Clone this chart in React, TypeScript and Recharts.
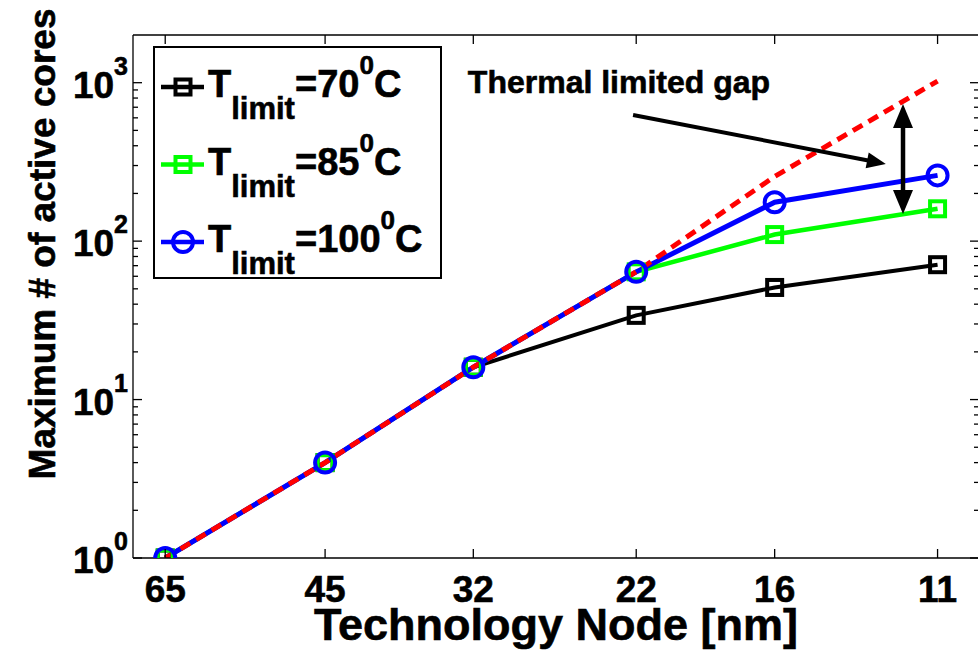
import {
  LineChart,
  Line,
  XAxis,
  YAxis,
  Legend,
  ReferenceLine,
  ReferenceDot,
} from "recharts";

// technology nodes [nm] and max # of active cores per thermal limit
const nodes = [65, 45, 32, 22, 16, 11];
const cores70 = [1, 4, 16, 34, 51, 71];
const cores85 = [1, 4, 16, 64, 110, 160];
const cores100 = [1, 4, 16, 64, 176, 260];
const coresIdeal = [1, 4, 16, 64, 256, 1024];

const xTicks = [65, 45, 32, 22, 16, 11];
const yMajor = [1, 10, 100, 1000];
const yTicks = [
  1, 2, 3, 4, 5, 6, 7, 8, 9,
  10, 20, 30, 40, 50, 60, 70, 80, 90,
  100, 200, 300, 400, 500, 600, 700, 800, 900,
  1000,
];

const legendItems = [
  { temp: "70", color: "#000000", marker: "square" },
  { temp: "85", color: "#00ff00", marker: "square" },
  { temp: "100", color: "#0000ff", marker: "circle" },
];

const data = nodes.map((n, i) => ({
  node: n,
  t70: cores70[i],
  t85: cores85[i],
  t100: cores100[i],
  ideal: coresIdeal[i],
}));

const FONT = "'Liberation Sans', Arial, Helvetica, sans-serif";
// slightly heavier than plain bold, like the original figure
const textStyle = {
  fontFamily: FONT,
  fontWeight: "bold" as const,
  fill: "#000",
  stroke: "#000",
  strokeWidth: 0.6,
};

const squareDot = (color: string) => (props: any) => {
  const { cx, cy, index } = props;
  if (cx == null || cy == null) return <g key={index} />;
  return (
    <rect
      key={index}
      x={cx - 7.5}
      y={cy - 7.5}
      width={15}
      height={15}
      fill="none"
      stroke={color}
      strokeWidth={4}
    />
  );
};

const LeftTick = (props: any) => {
  const { x, y, payload } = props;
  const v = payload.value;
  const major = yMajor.includes(v);
  return (
    <g>
      <line x1={x} x2={x + (major ? 9 : 5)} y1={y} y2={y} stroke="#000" strokeWidth={1.3} />
      {major && (
        <text x={x - 5} y={y + 15} textAnchor="end" fontSize={37} {...textStyle}>
          10
          <tspan fontSize={25} dy={-23}>
            {Math.round(Math.log10(v))}
          </tspan>
        </text>
      )}
    </g>
  );
};

const RightTick = (props: any) => {
  const { x, y, payload } = props;
  const major = yMajor.includes(payload.value);
  return <line x1={x} x2={x - (major ? 9 : 5)} y1={y} y2={y} stroke="#000" strokeWidth={1.3} />;
};

const BottomTick = (props: any) => {
  const { x, y, payload } = props;
  return (
    <g>
      <line x1={x} x2={x} y1={y} y2={y - 9} stroke="#000" strokeWidth={1.3} />
      <text x={x} y={y + 44} textAnchor="middle" fontSize={37} {...textStyle}>
        {payload.value}
      </text>
    </g>
  );
};

const TopTick = (props: any) => {
  const { x, y } = props;
  return <line x1={x} x2={x} y1={y} y2={y + 9} stroke="#000" strokeWidth={1.3} />;
};

const XTitle = (props: any) => {
  const vb = props.viewBox;
  return (
    <text
      x={vb.x + vb.width / 2}
      y={vb.y + 82}
      textAnchor="middle"
      fontSize={45}
      {...textStyle}
    >
      Technology Node [nm]
    </text>
  );
};

const YTitle = (props: any) => {
  const vb = props.viewBox;
  return (
    <text
      transform={`translate(${vb.x - 18},${vb.y + 209}) rotate(-90)`}
      textAnchor="middle"
      fontSize={37}
      {...textStyle}
    >
      Maximum # of active cores
    </text>
  );
};

function arrowHead(x1: number, y1: number, x2: number, y2: number, len: number, half: number) {
  // triangle pointing from (x1,y1) towards (x2,y2), tip at (x2,y2)
  const d = Math.hypot(x2 - x1, y2 - y1) || 1;
  const ux = (x2 - x1) / d;
  const uy = (y2 - y1) / d;
  const bx = x2 - ux * len;
  const by = y2 - uy * len;
  return `${x2},${y2} ${bx - uy * half},${by + ux * half} ${bx + uy * half},${by - ux * half}`;
}

const SingleArrow = (props: any) => {
  const { x1, y1, x2, y2 } = props;
  const d = Math.hypot(x2 - x1, y2 - y1) || 1;
  const ex = x2 - ((x2 - x1) / d) * 14;
  const ey = y2 - ((y2 - y1) / d) * 14;
  return (
    <g>
      <line x1={x1} y1={y1} x2={ex} y2={ey} stroke="#000" strokeWidth={4} />
      <polygon points={arrowHead(x1, y1, x2, y2, 19, 8)} fill="#000" />
    </g>
  );
};

const DoubleArrow = (props: any) => {
  const { x1, y1, x2, y2 } = props;
  const top = Math.min(y1, y2);
  const bot = Math.max(y1, y2);
  return (
    <g>
      <line x1={x1} y1={top + 18} x2={x2} y2={bot - 18} stroke="#000" strokeWidth={4.5} />
      <polygon points={arrowHead(x1, bot, x1, top, 24, 10)} fill="#000" />
      <polygon points={arrowHead(x1, top, x1, bot, 24, 10)} fill="#000" />
    </g>
  );
};

const GapText = (props: any) => {
  const { cx, cy } = props;
  return (
    <text x={cx} y={cy} textAnchor="middle" fontSize={32} {...textStyle}>
      Thermal limited gap
    </text>
  );
};

const LegendBox = () => (
  <svg width={290} height={234} style={{ display: "block" }}>
    <rect x={1} y={1} width={287} height={231} fill="#fff" stroke="#000" strokeWidth={2} />
    {legendItems.map((item, i) => {
      const ly = 41 + i * 77.5;
      return (
        <g key={item.temp}>
          <line x1={8} x2={51} y1={ly} y2={ly} stroke={item.color} strokeWidth={4.5} />
          {item.marker === "square" ? (
            <rect x={22.5} y={ly - 7.5} width={15} height={15} fill="none" stroke={item.color} strokeWidth={4} />
          ) : (
            <circle cx={30} cy={ly} r={10} fill="none" stroke={item.color} strokeWidth={4} />
          )}
          <text x={55} y={ly + 10} fontSize={38} {...textStyle}>
            T
            <tspan fontSize={31} dy={22}>limit</tspan>
            <tspan dy={-22}>={item.temp}</tspan>
            <tspan fontSize={26} dy={-23}>0</tspan>
            <tspan dy={23}>C</tspan>
          </text>
        </g>
      );
    })}
  </svg>
);

export default function App() {
  return (
    <div
      style={{
        position: "fixed",
        left: 0,
        top: 0,
        width: 978,
        height: 650,
        overflow: "hidden",
        background: "#fff",
      }}
    >
      <LineChart
        width={995}
        height={650}
        data={data}
        margin={{ top: 15, right: 6, bottom: 62, left: 73 }}
      >
        <XAxis
          xAxisId="bottom"
          dataKey="node"
          type="number"
          scale="log"
          domain={[10, 70]}
          reversed
          allowDataOverflow
          ticks={xTicks}
          interval={0}
          height={30}
          tickSize={0}
          tickMargin={0}
          tickLine={false}
          tick={<BottomTick />}
          axisLine={{ stroke: "#000", strokeWidth: 1.3 }}
          label={<XTitle />}
        />
        <XAxis
          xAxisId="top"
          orientation="top"
          dataKey="node"
          type="number"
          scale="log"
          domain={[10, 70]}
          reversed
          allowDataOverflow
          ticks={xTicks}
          interval={0}
          height={20}
          tickSize={0}
          tickMargin={0}
          tickLine={false}
          tick={<TopTick />}
          axisLine={{ stroke: "#000", strokeWidth: 1.3 }}
        />
        <YAxis
          yAxisId="left"
          type="number"
          scale="log"
          domain={[1, 2000]}
          allowDataOverflow
          ticks={yTicks}
          interval={0}
          width={60}
          tickSize={0}
          tickMargin={0}
          tickLine={false}
          tick={<LeftTick />}
          axisLine={{ stroke: "#000", strokeWidth: 1.3 }}
          label={<YTitle />}
        />
        <YAxis
          yAxisId="right"
          orientation="right"
          type="number"
          scale="log"
          domain={[1, 2000]}
          allowDataOverflow
          ticks={yTicks}
          interval={0}
          width={10}
          tickSize={0}
          tickMargin={0}
          tickLine={false}
          tick={<RightTick />}
          axisLine={{ stroke: "#000", strokeWidth: 1.3 }}
        />
        <Line
          xAxisId="bottom"
          yAxisId="left"
          dataKey="t70"
          type="linear"
          stroke="#000000"
          strokeWidth={4}
          dot={squareDot("#000000")}
          isAnimationActive={false}
        />
        <Line
          xAxisId="bottom"
          yAxisId="left"
          dataKey="t85"
          type="linear"
          stroke="#00ff00"
          strokeWidth={4.5}
          dot={squareDot("#00ff00")}
          isAnimationActive={false}
        />
        <Line
          xAxisId="bottom"
          yAxisId="left"
          dataKey="t100"
          type="linear"
          stroke="#0000ff"
          strokeWidth={5}
          dot={{ r: 10, fill: "none", stroke: "#0000ff", strokeWidth: 4 }}
          isAnimationActive={false}
        />
        <Line
          xAxisId="bottom"
          yAxisId="left"
          dataKey="ideal"
          type="linear"
          stroke="#ff0000"
          strokeWidth={5}
          strokeDasharray="11 7"
          dot={false}
          isAnimationActive={false}
        />
        <ReferenceLine
          xAxisId="bottom"
          yAxisId="left"
          segment={[
            { x: 22.16, y: 626 },
            { x: 12.39, y: 307 },
          ]}
          shape={<SingleArrow />}
        />
        <ReferenceLine
          xAxisId="bottom"
          yAxisId="left"
          segment={[
            { x: 11.91, y: 735 },
            { x: 11.91, y: 148.5 },
          ]}
          shape={<DoubleArrow />}
        />
        <ReferenceDot
          xAxisId="bottom"
          yAxisId="left"
          x={22.89}
          y={862}
          r={0}
          shape={<GapText />}
        />
        <Legend
          layout="vertical"
          align="center"
          verticalAlign="middle"
          wrapperStyle={{ left: 153, top: 46, width: 290, height: 234 }}
          content={<LegendBox />}
        />
      </LineChart>
    </div>
  );
}
